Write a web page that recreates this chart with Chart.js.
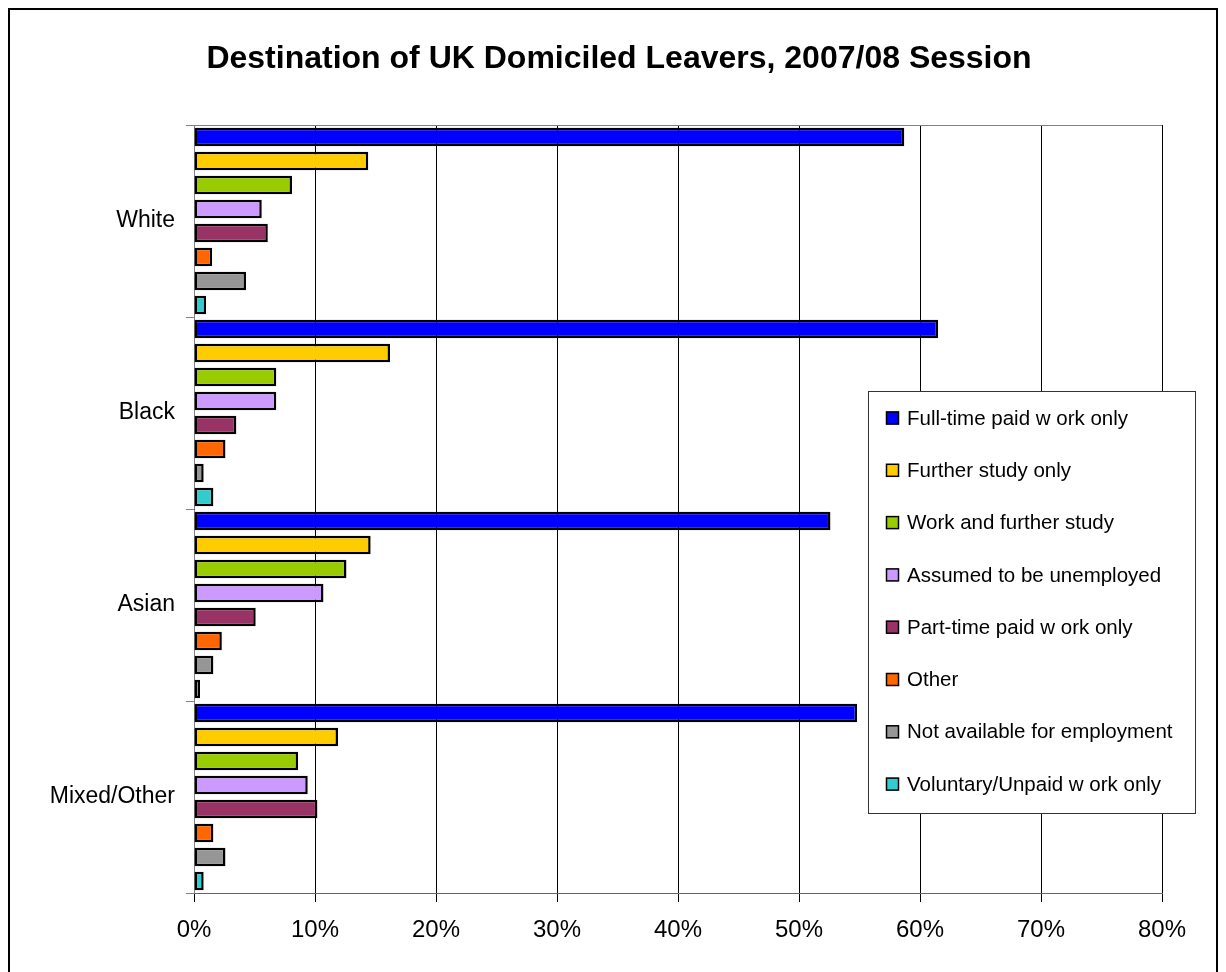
<!DOCTYPE html>
<html>
<head>
<meta charset="utf-8">
<title>Destination of UK Domiciled Leavers</title>
<script src="https://cdn.jsdelivr.net/npm/chart.js@4.4.1/dist/chart.umd.min.js"></script>
<style>
  html, body { margin: 0; padding: 0; background: #fff; }
  canvas { display: block; }
</style>
</head>
<body>
<canvas id="destChart" width="1226" height="972"></canvas>
<script>
// ethnic groups on the y axis
const categories = ["White", "Black", "Asian", "Mixed/Other"];

// percentage of leavers in each destination, per group
const fullTime     = [58.7, 61.5, 52.6, 54.8];
const furtherStudy = [14.4, 16.2, 14.6, 11.9];
const workAndStudy = [8.1, 6.8, 12.6, 8.6];
const unemployed   = [5.6, 6.8, 10.7, 9.4];
const partTime     = [6.1, 3.5, 5.1, 10.2];
const other        = [1.5, 2.6, 2.3, 1.6];
const notAvailable = [4.3, 0.8, 1.6, 2.6];
const voluntary    = [1.0, 1.6, 0.5, 0.8];

// x axis ticks (percent)
const xTicks = [0, 10, 20, 30, 40, 50, 60, 70, 80];

const chartTitle = 'Destination of UK Domiciled Leavers, 2007/08 Session';

const seriesNames = [
  "Full-time paid w ork only",
  "Further study only",
  "Work and further study",
  "Assumed to be unemployed",
  "Part-time paid w ork only",
  "Other",
  "Not available for employment",
  "Voluntary/Unpaid w ork only"
];
const seriesData = [fullTime, furtherStudy, workAndStudy, unemployed, partTime, other, notAvailable, voluntary];
const seriesColors = ["#0000FF", "#FFCC00", "#99CC00", "#CC99FF", "#993366", "#FF6600", "#969696", "#33CCCC"];

const FONT = "'Liberation Sans', Arial, sans-serif";

// white page, outer frame, title and the top edge of the plot area
const framePlugin = {
  id: 'frame',
  beforeDraw(chart) {
    const ctx = chart.ctx;
    ctx.save();
    ctx.fillStyle = '#fff';
    ctx.fillRect(0, 0, chart.width, chart.height);
    ctx.strokeStyle = '#000';
    ctx.lineWidth = 2;
    ctx.strokeRect(9, 9, chart.width - 18, chart.height + 40);
    ctx.fillStyle = '#000';
    ctx.font = 'bold 32px ' + FONT;
    ctx.textAlign = 'center';
    ctx.textBaseline = 'middle';
    ctx.fillText(chartTitle, 619, 59);
    ctx.restore();
  },
  afterDraw(chart) {
    const a = chart.chartArea;
    const ctx = chart.ctx;
    ctx.save();
    ctx.strokeStyle = '#808080';
    ctx.lineWidth = 1;
    ctx.beginPath();
    ctx.moveTo(a.left - 8, a.top + 0.5);
    ctx.lineTo(a.right, a.top + 0.5);
    ctx.stroke();
    ctx.restore();
  }
};

// boxed legend sitting over the lower right of the plot
const boxLegend = {
  id: 'boxLegend',
  afterDraw(chart) {
    const ctx = chart.ctx;
    const x = 868, y = 391, w = 327, h = 422;
    ctx.save();
    ctx.fillStyle = '#fff';
    ctx.fillRect(x, y, w, h);
    ctx.strokeStyle = '#333';
    ctx.lineWidth = 1;
    ctx.strokeRect(x + 0.5, y + 0.5, w, h);
    ctx.font = '20.5px ' + FONT;
    ctx.textBaseline = 'middle';
    chart.data.datasets.forEach((ds, i) => {
      const cy = 418 + i * 52.3;
      ctx.fillStyle = ds.backgroundColor;
      ctx.fillRect(886, cy - 6.5, 13, 13);
      ctx.strokeStyle = '#000';
      ctx.lineWidth = 1.5;
      ctx.strokeRect(886.5, cy - 6, 12, 12);
      ctx.fillStyle = '#000';
      ctx.fillText(ds.label, 907, cy + 1);
    });
    ctx.restore();
  }
};

const ctx = document.getElementById('destChart').getContext('2d');
const destChart = new Chart(ctx, {
  type: 'bar',
  data: {
    labels: categories,
    datasets: seriesNames.map((name, i) => ({
      label: name,
      data: seriesData[i],
      backgroundColor: seriesColors[i],
      borderColor: '#000',
      borderWidth: 2.5,
      borderSkipped: false,
      categoryPercentage: 1.0,
      barPercentage: 0.78
    }))
  },
  options: {
    indexAxis: 'y',
    responsive: false,
    animation: false,
    layout: { padding: { left: 0, right: 64, top: 125, bottom: 0 } },
    plugins: {
      legend: { display: false },
      tooltip: { enabled: false },
      title: { display: false }
    },
    scales: {
      x: {
        min: 0,
        max: 80,
        afterBuildTicks(scale) {
          scale.ticks = xTicks.map(v => ({ value: v }));
        },
        afterFit(scale) { scale.height = 79; },
        grid: { color: '#000', lineWidth: 1, tickLength: 9, drawTicks: true },
        border: { color: '#666', width: 1 },
        ticks: {
          color: '#000',
          padding: 14,
          font: { family: FONT, size: 24 },
          callback: v => v + '%'
        }
      },
      y: {
        afterFit(scale) { scale.width = 194; },
        grid: { drawOnChartArea: false, color: '#808080', tickLength: 8, offset: true },
        border: { color: '#808080', width: 1 },
        ticks: {
          color: '#000',
          padding: 11,
          font: { family: FONT, size: 23 }
        }
      }
    }
  },
  plugins: [framePlugin, boxLegend]
});
</script>
</body>
</html>
